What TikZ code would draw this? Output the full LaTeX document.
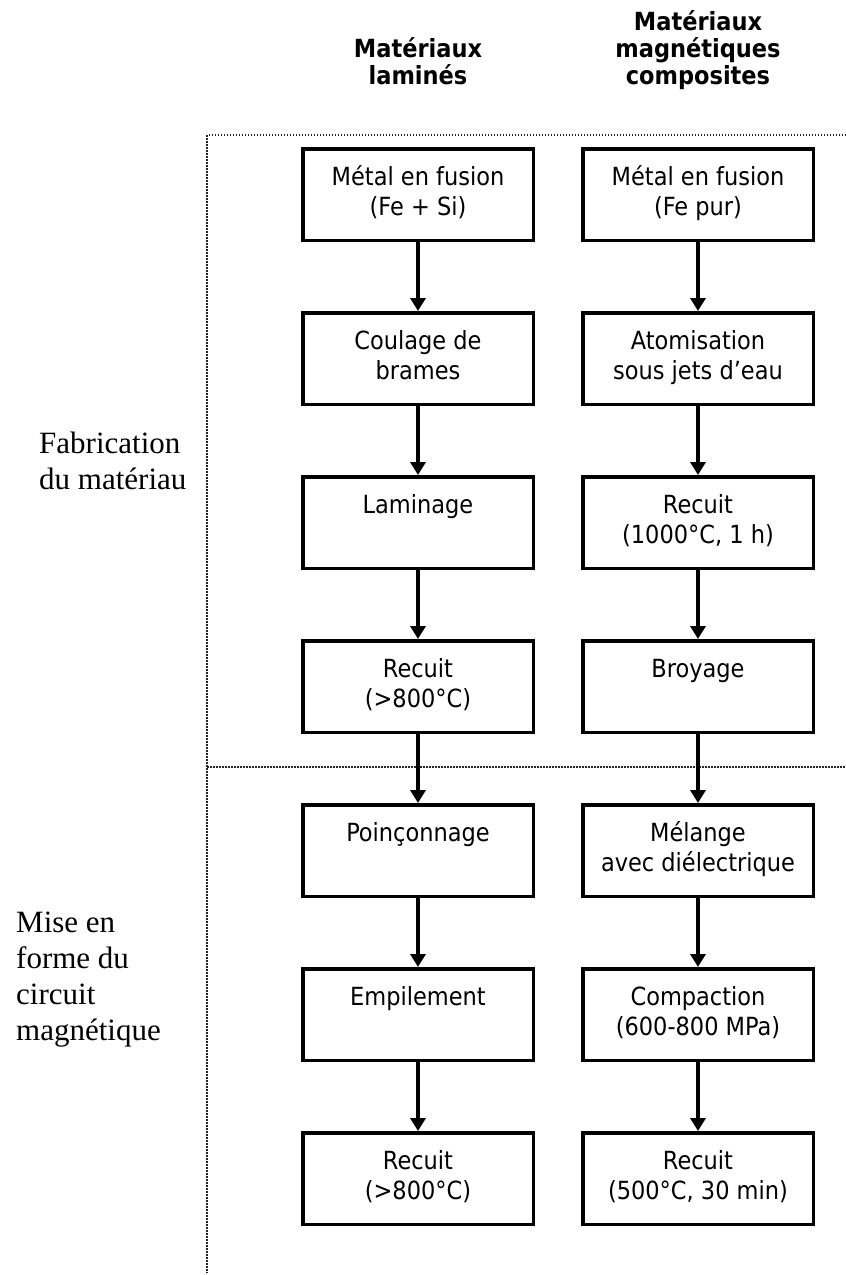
\documentclass[tikz,border=0pt]{standalone}
\usepackage{fontspec}
\setmainfont{Liberation Serif}
\newfontfamily\boxfont{DejaVu Sans Condensed}
\usepackage{tikz}
\usetikzlibrary{positioning}
\usetikzlibrary{arrows.meta}

\newcommand{\twol}[2]{#1\strut\\#2\strut}

\begin{document}
\begin{tikzpicture}[x=1pt, y=-1pt, node distance=69pt,
  stage/.style={draw, line width=3.5pt, minimum width=230.5pt, minimum height=91.5pt, inner sep=0pt, align=center, font=\boxfont\fontsize{25}{30}\selectfont},
  head/.style={inner sep=0pt, align=center, font=\boxfont\bfseries\fontsize{25}{27}\selectfont},
  side/.style={inner sep=0pt, align=left, anchor=north west, font=\fontsize{31}{36}\selectfont},
  flow/.style={line width=3.5pt, -{Triangle[width=15pt,length=13pt]}},
  sep/.style={line width=1.5pt, dash pattern=on 1.5pt off 1.5pt, black!85}]
\useasboundingbox (0,0) rectangle (846,1275);
% frame of the two stages
\coordinate (tl) at (207,135);
\coordinate (tr) at (846,135);
\coordinate (ml) at (207,767);
\coordinate (mr) at (846,767);
\coordinate (bl) at (207,1273);
\draw[sep] (tr) -- (tl) -- (bl);
\draw[sep] (ml) -- (mr);
% laminated materials
\node[stage] (l1) at (418,194.5) {\twol{Métal en fusion}{(Fe + Si)}};
\node[stage, below=of l1] (l2) {\twol{Coulage de}{brames}};
\node[stage, below=of l2] (l3) {\twol{Laminage}{}};
\node[stage, below=of l3] (l4) {\twol{Recuit}{(>800°C)}};
\node[stage, below=of l4] (l5) {\twol{Poinçonnage}{}};
\node[stage, below=of l5] (l6) {\twol{Empilement}{}};
\node[stage, below=of l6] (l7) {\twol{Recuit}{(>800°C)}};
% soft magnetic composites
\node[stage, right=46pt of l1] (r1) {\twol{Métal en fusion}{(Fe pur)}};
\node[stage, below=of r1] (r2) {\twol{Atomisation}{sous jets d’eau}};
\node[stage, below=of r2] (r3) {\twol{Recuit}{(1000°C, 1 h)}};
\node[stage, below=of r3] (r4) {\twol{Broyage}{}};
\node[stage, below=of r4] (r5) {\twol{Mélange}{avec diélectrique}};
\node[stage, below=of r5] (r6) {\twol{Compaction}{(600-800 MPa)}};
\node[stage, below=of r6] (r7) {\twol{Recuit}{(500°C, 30 min)}};
% column titles
\node[head, above=54pt of l1] (hlam) {Matériaux\\laminés\strut};
\node[head, above=54pt of r1] (hcomp) {Matériaux\\magnétiques\\composites\strut};
% stage labels
\node[side] (fab) at (39,428) {\strut Fabrication\\du matériau};
\node[side] (mise) at (16,907) {\strut Mise en\\forme du\\circuit\\magnétique};
\draw[flow] (l1) -- (l2);
\draw[flow] (l2) -- (l3);
\draw[flow] (l3) -- (l4);
\draw[flow] (l4) -- (l5);
\draw[flow] (l5) -- (l6);
\draw[flow] (l6) -- (l7);
\draw[flow] (r1) -- (r2);
\draw[flow] (r2) -- (r3);
\draw[flow] (r3) -- (r4);
\draw[flow] (r4) -- (r5);
\draw[flow] (r5) -- (r6);
\draw[flow] (r6) -- (r7);
\end{tikzpicture}
\end{document}
